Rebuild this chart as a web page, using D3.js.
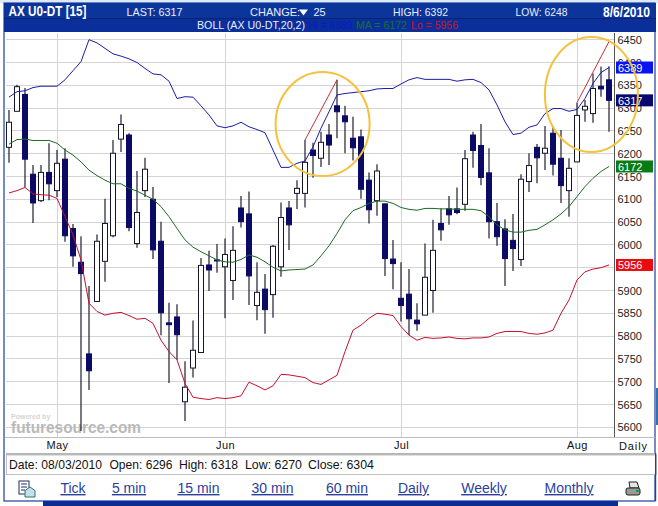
<!DOCTYPE html>
<html>
<head>
<meta charset="utf-8">
<script src="https://cdn.jsdelivr.net/npm/d3@7"></script>
<style>
  body { margin: 0; background: #fff; }
  svg { display: block; font-family: "Liberation Sans", Arial, sans-serif; }
</style>
</head>
<body>
<div id="chart"></div>
<script>
// daily bars, May - Aug 2010
const opens = [6214,6293,6330,6155,6097,6159,6119,6188,6036,5962,5761,5876,5964,6020,6232,6241,6003,6119,6100,6008,
  5829,5842,5656,5730,5764,5956,5967,5952,5922,6081,6068,5867,5903,5891,5952,6081,6113,6113,6208,6190,
  6241,6305,6283,6234,6237,6142,6097,6090,5969,5883,5892,5835,5846,5900,6047,6079,6079,6089,6241,6218,
  6158,6051,6035,6010,5968,6139,6214,6201,6245,6190,6119,6182,6296,6288,6348,6362];
const highs = [6296,6351,6344,6175,6175,6223,6208,6212,6046,6019,5910,6023,6101,6230,6286,6245,6162,6191,6127,6051,
  5873,5870,5745,5834,5971,5987,6002,6014,6041,6107,6117,5962,5936,6000,6093,6096,6142,6230,6224,6248,
  6265,6362,6305,6281,6253,6159,6177,6090,6011,5962,5947,5872,6003,6055,6080,6107,6126,6208,6248,6265,
  6212,6092,6056,6068,6155,6201,6221,6261,6261,6252,6190,6312,6318,6376,6391,6392];
const lows = [6180,6293,6127,6048,6094,6098,6105,6007,5952,5592,5682,5876,5919,6017,6204,6030,5994,6105,5969,5802,
  5697,5748,5614,5709,5764,5899,5939,5839,5879,6038,5868,5835,5805,5840,5930,5989,6079,6082,6147,6171,
  6175,6234,6201,6185,6101,6047,6064,5932,5903,5832,5802,5812,5846,5851,6009,6044,6067,6075,6169,6131,
  6014,5998,5910,5943,5954,6116,6135,6164,6152,6092,6062,6182,6270,6268,6325,6248];
const closes = [6269,6347,6188,6092,6159,6134,6179,6020,5976,5937,5724,6008,6047,6201,6264,6038,6071,6166,5989,5851,
  5825,5803,5688,5769,5955,5945,5965,5979,5988,6051,5932,5896,5858,5997,6060,6044,6124,6181,6196,6225,
  6219,6292,6270,6213,6122,6077,6162,5970,5959,5867,5838,5827,5929,5988,6033,6066,6071,6189,6207,6148,
  6051,6018,5970,5992,6144,6174,6191,6212,6177,6130,6168,6284,6304,6343,6342,6317];

// bollinger 20,2
const upperBand = [6324,6336,6338,6345,6348,6348,6348,6362,6382,6402,6450,6443,6431,6419,6414,6408,6400,6387,6375,6373,
  6359,6321,6325,6324,6305,6285,6261,6257,6261,6269,6259,6253,6246,6208,6170,6170,6179,6184,6215,6256,
  6292,6329,6332,6334,6336,6338,6342,6343,6343,6353,6362,6367,6363,6363,6363,6363,6359,6362,6363,6356,
  6340,6307,6270,6242,6245,6258,6263,6288,6299,6299,6293,6297,6321,6354,6378,6389];
const midBand = [6221,6231,6232,6229,6229,6229,6223,6208,6197,6182,6164,6152,6142,6134,6134,6124,6118,6109,6100,6084,
  6062,6036,6011,5995,5985,5976,5967,5963,5962,5968,5978,5973,5963,5951,5943,5945,5946,5947,5956,5976,
  5998,6025,6055,6075,6082,6091,6096,6096,6091,6082,6078,6076,6080,6080,6079,6079,6078,6078,6078,6075,
  6062,6044,6033,6028,6028,6032,6034,6044,6055,6068,6084,6106,6128,6146,6161,6172];
const lowerBand = [6114,6119,6126,6112,6110,6109,6102,6062,6022,5967,5872,5854,5846,5850,5852,5845,5837,5839,5828,5791,
  5766,5748,5696,5666,5663,5661,5665,5663,5665,5669,5699,5691,5682,5691,5716,5715,5712,5709,5698,5694,
  5704,5714,5766,5813,5824,5839,5850,5848,5845,5821,5802,5791,5797,5795,5796,5798,5795,5794,5796,5796,
  5798,5806,5810,5810,5810,5806,5804,5807,5813,5850,5879,5923,5941,5947,5950,5956];

const priceTicks = d3.range(5600, 6451, 50);
const monthNames = ['May', 'Jun', 'Jul', 'Aug'];
const monthBars = [6, 27, 49, 71];
const infoLabels = ['Date: 08/03/2010', 'Open: 6296', 'High: 6318', 'Low: 6270', 'Close: 6304'];
const infoX = [9, 109.5, 179, 245, 308];
const navLabels = ['Tick', '5 min', '15 min', '30 min', '60 min', 'Daily', 'Weekly', 'Monthly'];
const navX = [73, 129, 198.5, 272.5, 347, 413.5, 484, 569];

const bars = opens.map((o, i) => ({ i, o, h: highs[i], l: lows[i], c: closes[i] }));

const width = 658, height = 506;
const svg = d3.select('#chart').append('svg').attr('width', width).attr('height', height);

const x = d3.scaleLinear().domain([0, 75]).range([9, 609]);
const y = d3.scaleLinear().domain([5600, 6450]).range([427.3, 39.7]);
const plotTop = 33, plotBottom = 437, plotLeft = 5, axisX = 614.5;

// page frame
svg.append('rect').attr('width', width).attr('height', 3).attr('fill', '#dfeaf8');
svg.append('rect').attr('x', 4).attr('y', 3).attr('width', 651).attr('height', 498)
  .attr('fill', '#fff').attr('stroke', '#1b3f9f').attr('stroke-width', 1.2);
svg.append('rect').attr('x', 43).attr('y', 501).attr('width', 575).attr('height', 5).attr('fill', '#0a2c94');
svg.append('rect').attr('x', 656).attr('y', 388).attr('width', 2).attr('height', 37).attr('fill', '#3a6ea8');

// header
svg.append('rect').attr('x', 4).attr('y', 3).attr('width', 652).attr('height', 29).attr('fill', '#0c359c');
svg.append('rect').attr('x', 4).attr('y', 18).attr('width', 652).attr('height', 14).attr('fill', '#0a2f9a');
svg.append('line').attr('x1', 4).attr('x2', 656).attr('y1', 18.5).attr('y2', 18.5).attr('stroke', '#08246f');

const head = (txt, px, py, opts = {}) => {
  const t = svg.append('text')
    .attr('x', px).attr('y', py).text(txt)
    .attr('fill', opts.fill || '#e8eefb')
    .attr('font-size', opts.size || 11)
    .attr('font-weight', opts.bold ? 'bold' : 'normal');
  if (opts.w) t.attr('textLength', opts.w).attr('lengthAdjust', 'spacingAndGlyphs');
  return t;
};

head('AX U0-DT [15]', 8.5, 16, { bold: true, size: 14, fill: '#fff', w: 78 });
head('LAST: 6317', 126.5, 16, { w: 56 });
head('CHANGE:', 250, 16);
svg.append('path').attr('d', 'M299,9.5h9l-4.5,6z').attr('fill', '#fff');
head('25', 313.5, 16);
head('HIGH: 6392', 393, 16, { w: 55 });
head('LOW: 6248', 515.5, 16, { w: 52 });
head('8/6/2010', 603, 16.5, { bold: true, size: 14, fill: '#fff', w: 47 });
head('BOLL (AX U0-DT,20,2)', 197, 29, { w: 108 });
head('Hi = 6389', 308, 29, { fill: '#0618d0', w: 44 });
head('MA = 6172', 356, 29, { fill: '#1a7030', w: 51 });
head('Lo = 5956', 411, 29, { fill: '#d8101c', w: 47 });

// grid
const grid = svg.append('g').attr('stroke', '#d4d4d4').attr('stroke-width', 1).attr('shape-rendering', 'crispEdges');
grid.selectAll('line.h').data(priceTicks).join('line').attr('class', 'h')
  .attr('x1', plotLeft + 1).attr('x2', axisX)
  .attr('y1', d => y(d)).attr('y2', d => y(d));
grid.selectAll('line.v').data(monthBars).join('line').attr('class', 'v')
  .attr('x1', d => x(d)).attr('x2', d => x(d))
  .attr('y1', plotTop).attr('y2', plotBottom);

// watermark
svg.append('text').attr('x', 11).attr('y', 419).text('Powered by')
  .attr('font-size', 7).attr('font-weight', 'bold').attr('fill', '#d5d5d5');
svg.append('text').attr('x', 11).attr('y', 433).text('futuresource.com')
  .attr('font-size', 17).attr('font-weight', 'bold').attr('fill', '#b9b9b9')
  .attr('textLength', 130).attr('lengthAdjust', 'spacingAndGlyphs');

// candles
const candle = svg.append('g').selectAll('g').data(bars).join('g');
candle.append('line')
  .attr('x1', d => x(d.i)).attr('x2', d => x(d.i))
  .attr('y1', d => y(d.h)).attr('y2', d => y(d.l))
  .attr('stroke', '#0a0a1e').attr('stroke-width', 1.1);
candle.append('rect')
  .attr('x', d => x(d.i) - 2.5).attr('width', 5)
  .attr('y', d => y(Math.max(d.o, d.c)))
  .attr('height', d => Math.max(1, Math.abs(y(d.o) - y(d.c))))
  .attr('fill', d => d.c >= d.o ? '#fff' : '#0b0b66')
  .attr('stroke', d => d.c >= d.o ? '#14142a' : '#0b0b66')
  .attr('stroke-width', 1);

// bands
const line = d3.line().x((d, i) => x(i)).y(d => y(d));
const bands = [[upperBand, '#1c1ca6'], [midBand, '#1d6a24'], [lowerBand, '#c4102e']];
svg.append('g').selectAll('path').data(bands).join('path')
  .attr('d', d => line(d[0]))
  .attr('fill', 'none').attr('stroke', d => d[1]).attr('stroke-width', 1);

// hand drawn trend marks
const trendMarks = [[37, 6230, 41, 6362], [71, 6312, 75, 6446]];
svg.append('g').selectAll('line').data(trendMarks).join('line')
  .attr('x1', d => x(d[0])).attr('y1', d => y(d[1]))
  .attr('x2', d => x(d[2])).attr('y2', d => y(d[3]))
  .attr('stroke', '#c8303a').attr('stroke-width', 1);

// price axis, 5950 sits fully under the red tag
const axisR = d3.axisRight(y).tickValues(priceTicks).tickSize(0).tickPadding(3)
  .tickFormat(d => d === 5950 ? '' : d);
const yAxis = svg.append('g').attr('transform', `translate(${axisX},0)`).call(axisR);
yAxis.select('.domain').attr('d', `M0,${plotTop}V${plotBottom}`).attr('stroke', '#555').attr('stroke-width', 1);
yAxis.selectAll('text').attr('font-size', 11).attr('font-family', '"Liberation Sans", Arial, sans-serif').attr('fill', '#222');

// last value tags
const tagValues = [6389, 6317, 6172, 5956];
const tagColors = ['#0a14f0', '#08086e', '#0a7a12', '#e80c0c'];
const tags = svg.append('g').selectAll('g').data(tagValues).join('g')
  .attr('transform', d => `translate(616,${y(d)})`);
tags.append('rect').attr('y', -6).attr('width', 37).attr('height', 12)
  .attr('fill', (d, i) => tagColors[i]);
tags.append('text').attr('x', 2).attr('y', 4.5).text(d => d)
  .attr('font-size', 11).attr('fill', '#fff');

// month axis
svg.append('line').attr('x1', 5).attr('x2', 655).attr('y1', 437.5).attr('y2', 437.5).attr('stroke', '#bdbdbd');
const xAxis = svg.append('g').attr('transform', `translate(0,${plotBottom})`)
  .call(d3.axisBottom(x).tickValues(monthBars).tickFormat((d, i) => monthNames[i]).tickSize(0).tickPadding(4));
xAxis.select('.domain').remove();
xAxis.selectAll('text').attr('font-size', 11).attr('font-family', '"Liberation Sans", Arial, sans-serif')
  .attr('fill', '#111').attr('letter-spacing', 0.4);
svg.append('text').attr('x', 619).attr('y', 450).text('Daily')
  .attr('font-size', 11).attr('letter-spacing', 0.9).attr('fill', '#111');

// info row
svg.append('rect').attr('x', 6).attr('y', 453).attr('width', 650).attr('height', 2.5).attr('fill', '#b4b4b4');
svg.append('rect').attr('x', 6.5).attr('y', 455).attr('width', 650).attr('height', 19.5)
  .attr('fill', '#fff').attr('stroke', '#c0c0c0');
svg.append('rect').attr('x', 655).attr('y', 453).attr('width', 1.2).attr('height', 48).attr('fill', '#1b3f9f');
const infoW = [93, 63, 59, 57, 66];
svg.append('g').selectAll('text').data(infoLabels).join('text')
  .attr('x', (d, i) => infoX[i]).attr('y', 469).text(d => d)
  .attr('font-size', 13).attr('fill', '#111')
  .attr('textLength', (d, i) => infoW[i]).attr('lengthAdjust', 'spacingAndGlyphs');

// nav links
svg.append('g').selectAll('text').data(navLabels).join('text')
  .attr('x', (d, i) => navX[i]).attr('y', 493).attr('text-anchor', 'middle').text(d => d)
  .attr('font-size', 14).attr('fill', '#2b3f9e').attr('text-decoration', 'underline');

// mail icon
const mail = svg.append('g').attr('transform', 'translate(19,481)');
mail.append('rect').attr('width', 10).attr('height', 13).attr('fill', '#fff').attr('stroke', '#1d2a5a');
mail.append('path').attr('d', 'M2,3h6M2,6h6M2,9h4').attr('stroke', '#1d2a5a');
mail.append('path').attr('d', 'M6,16V9.5l5,-3.5l5,3.5V16z').attr('fill', '#bfe3ea').attr('stroke', '#3a6a78');
// printer icon
const printer = svg.append('g').attr('transform', 'translate(625,481)');
printer.append('path').attr('d', 'M4,1h8l2,6H5z').attr('fill', '#e6e6e6').attr('stroke', '#222');
printer.append('rect').attr('x', 1).attr('y', 7).attr('width', 14).attr('height', 7).attr('rx', 2).attr('fill', '#9a9a9a').attr('stroke', '#222');
printer.append('rect').attr('x', 11).attr('y', 9).attr('width', 3).attr('height', 2).attr('fill', '#18a040');

// yellow circles over everything
const circleMarks = [[39.2, 6265, 47, 52], [72.8, 6330, 46.5, 57.5]];
svg.append('g').selectAll('ellipse').data(circleMarks).join('ellipse')
  .attr('cx', d => x(d[0])).attr('cy', d => y(d[1]))
  .attr('rx', d => d[2]).attr('ry', d => d[3])
  .attr('fill', 'none').attr('stroke', '#f4c23c').attr('stroke-width', 2);
</script>
</body>
</html>
